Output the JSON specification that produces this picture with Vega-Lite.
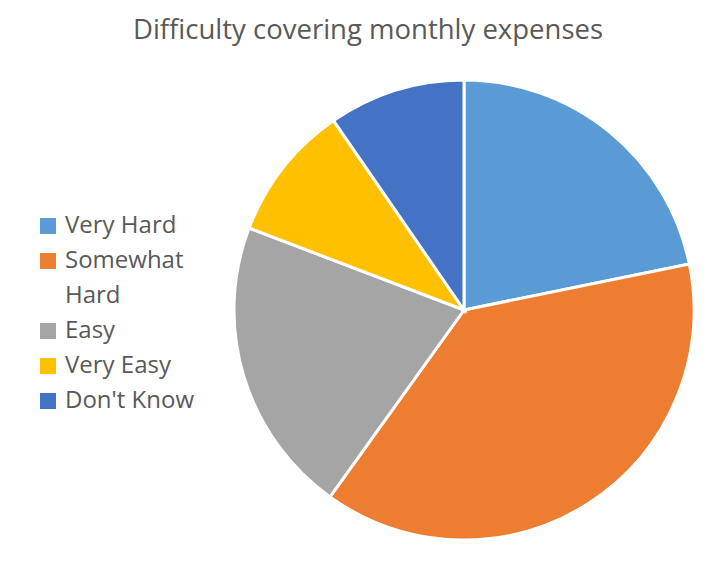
{
  "$schema": "https://vega.github.io/schema/vega-lite/v6.json",
  "width": 460,
  "height": 460,
  "autosize": {"type": "none"},
  "padding": {"left": 234, "top": 80, "right": 29, "bottom": 33},
  "background": "white",
  "title": {
    "text": "Difficulty covering monthly expenses",
    "font": "Open Sans",
    "fontSize": 27.5,
    "fontWeight": "normal",
    "color": "#595959",
    "anchor": "middle",
    "dx": -96,
    "offset": 30
  },
  "data": {
    "values": [
      {"category": "Very Hard", "rank": 1, "value": 21.8},
      {"category": "Somewhat Hard", "rank": 2, "value": 38.1},
      {"category": "Easy", "rank": 3, "value": 20.9},
      {"category": "Very Easy", "rank": 4, "value": 9.6},
      {"category": "Don't Know", "rank": 5, "value": 9.6}
    ]
  },
  "mark": {"type": "arc", "stroke": "white", "strokeWidth": 3},
  "encoding": {
    "theta": {"field": "value", "type": "quantitative", "stack": true},
    "order": {"field": "rank", "type": "quantitative", "sort": "ascending"},
    "color": {
      "field": "category",
      "type": "nominal",
      "sort": ["Very Hard", "Somewhat Hard", "Easy", "Very Easy", "Don't Know"],
      "scale": {
        "domain": ["Very Hard", "Somewhat Hard", "Easy", "Very Easy", "Don't Know"],
        "range": ["#5B9BD5", "#ED7D31", "#A5A5A5", "#FFC000", "#4472C4"]
      },
      "legend": {
        "title": null,
        "orient": "none",
        "legendX": -198,
        "legendY": 134,
        "symbolType": "square",
        "symbolSize": 256,
        "symbolStrokeWidth": 0,
        "labelFont": "Open Sans",
        "labelFontSize": 24,
        "labelColor": "#595959",
        "labelOffset": 5,
        "rowPadding": 11,
        "labelLimit": 300,
        "labelExpr": "datum.label == 'Somewhat Hard' ? ['Somewhat', 'Hard'] : datum.label",
        "encode": {
          "labels": {
            "dy": {"value": {"signal": "datum.label == 'Somewhat Hard' ? -17.5 : 0"}}
          }
        }
      }
    }
  },
  "config": {
    "style": {"guide-label": {"lineHeight": 35}}
  }
}
